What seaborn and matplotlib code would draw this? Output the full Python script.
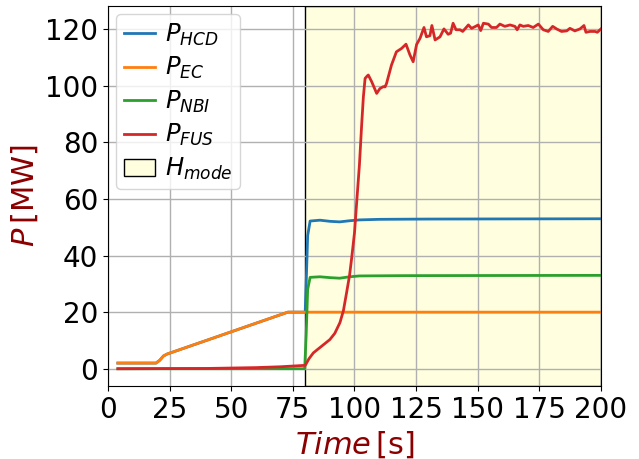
import numpy as np
import seaborn as sns
import matplotlib.pyplot as plt
from matplotlib.ticker import MultipleLocator

# time [s] and power [MW] for each source
t_hcd = [4, 19.5, 21, 22.5, 24, 73, 80, 80.4, 81, 82, 86, 90, 94, 98, 102, 110, 130, 200]
p_hcd = [2, 2, 3, 4.5, 5.2, 20, 20, 30, 47, 52.2, 52.5, 52.1, 51.9, 52.3, 52.6, 52.8, 52.9, 53]

t_ec = [4, 19.5, 21, 22.5, 24, 72, 73, 200]
p_ec = [2, 2, 3, 4.5, 5.2, 19.7, 20, 20]

t_nbi = [4, 79.8, 80.4, 81, 82, 86, 90, 94, 98, 102, 120, 200]
p_nbi = [0, 0, 12, 28, 32.3, 32.5, 32.2, 32.0, 32.5, 32.8, 32.9, 33]

t_fus = [4, 40, 60, 70, 80, 80.3, 81.5, 83.3, 86, 90, 92, 94.1, 95.5, 96.8, 98, 98.8,
         100, 100.9, 102, 102.9, 103.6, 104.3, 105.2, 105.6, 107, 109, 110.3, 111.7,
         112.4, 113, 115, 117, 119.1, 120.9, 122.5, 123.8, 125.2, 126.6, 128.2, 129.2,
         130.6, 131.4, 132.7, 134.7, 136.3, 138, 139, 140, 141.2, 142.8, 143.9, 144.8,
         146.2, 147.5, 148.9, 150.2, 151.2, 152.3, 154.3, 155.6, 157.6, 159, 161, 163.1,
         165.1, 166, 167.1, 168.5, 170.5, 172.5, 174.6, 176.6, 178.6, 180.4, 182, 184,
         186.1, 187.4, 189.4, 191.5, 193.1, 193.9, 195.5, 197.6, 198.5, 200]
p_fus = [0, 0.1, 0.4, 0.7, 1.2, 1.6, 3.5, 5.6, 7.5, 10.3, 12.5, 16.3, 20.5, 26.9, 33, 38.7,
         48, 58.9, 72, 86, 96, 102.6, 103.5, 103.8, 101.4, 97.3, 99, 99.7,
         99.6, 100.8, 107.3, 112, 113.2, 114.7, 110.9, 108.5, 114.6, 116.8, 120.6, 117.3,
         117.7, 121.3, 116.2, 117.3, 120.1, 118.2, 118.6, 122.1, 119.8, 119.8, 119.2, 120.1,
         121.5, 120.3, 120.9, 121.5, 119.5, 122.1, 121.8, 120.6, 120.6, 121.8, 121, 121.5,
         121, 119.8, 121.5, 121, 121.3, 120.6, 121.8, 119.8, 119.2, 121, 120.1, 119.2,
         119.4, 120.3, 119.4, 120.1, 121.3, 118.9, 119.2, 119.2, 118.9, 120.1]

hmode_start = 80
hmode_end = 200

fig, ax = plt.subplots(figsize=(6.39, 4.59), dpi=100)
fig.subplots_adjust(left=0.169, right=0.9405, top=0.987, bottom=0.159)

sns.lineplot(x=t_hcd, y=p_hcd, ax=ax, color="tab:blue", lw=2, label=r"$P_{HCD}$")
sns.lineplot(x=t_ec, y=p_ec, ax=ax, color="tab:orange", lw=2, label=r"$P_{EC}$")
sns.lineplot(x=t_nbi, y=p_nbi, ax=ax, color="tab:green", lw=2, label=r"$P_{NBI}$")
sns.lineplot(x=t_fus, y=p_fus, ax=ax, color="tab:red", lw=2, label=r"$P_{FUS}$")
ax.axvspan(hmode_start, hmode_end, facecolor="lightyellow", edgecolor="black",
           lw=1, label=r"$H_{mode}$")

ax.set_xlim(0, 200)
ax.xaxis.set_major_locator(MultipleLocator(25))
ax.yaxis.set_major_locator(MultipleLocator(20))
ax.grid(True, color="#b0b0b0", lw=1)
ax.tick_params(labelsize=20)
ax.set_xlabel(r"$Time\,[\mathrm{s}]$", fontsize=22, color="darkred")
ax.set_ylabel(r"$P\,[\mathrm{MW}]$", fontsize=22, color="darkred")
ax.legend(loc="upper left", fontsize=17.5, handlelength=1.3, labelspacing=0.3,
          borderpad=0.3, handletextpad=0.4, borderaxespad=0.35)

plt.savefig("out.png", dpi=100)
